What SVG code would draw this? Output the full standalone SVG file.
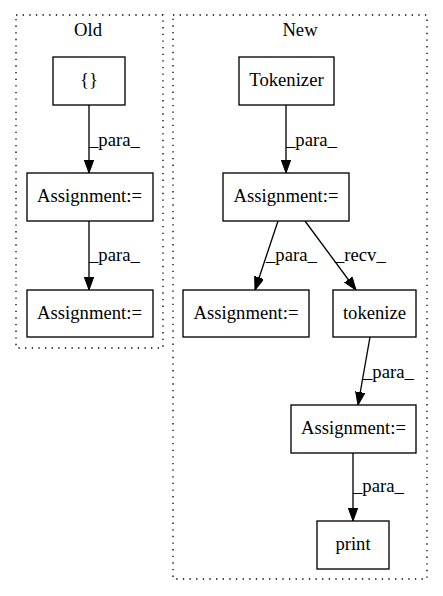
<svg xmlns="http://www.w3.org/2000/svg" width="443" height="596" viewBox="0 0 443 596">
<style>
text{font-family:"Liberation Serif","Times New Roman",serif;font-size:18.67px;fill:#000}
.c{fill:none;stroke:#000;stroke-width:1.33;stroke-dasharray:1.33,5.3}
.n{fill:#fff;stroke:#000;stroke-width:1.33}
.e{fill:none;stroke:#000;stroke-width:1.33;marker-end:url(#ah)}
.m{text-anchor:middle}
</style>
<defs>
<marker id="ah" markerUnits="userSpaceOnUse" markerWidth="14" markerHeight="10" refX="13" refY="4.7" orient="auto">
<path d="M0,0 L13,4.7 L0,9.4 z" fill="#000" stroke="#000"/>
</marker>
</defs>
<rect width="443" height="596" fill="#fff"/>
<g id="cluster_old">
<rect class="c" x="16" y="15" width="147" height="333"/>
<text class="m" x="88" y="36">Old</text>
</g>
<g id="cluster_new">
<rect class="c" x="173" y="15" width="254" height="564"/>
<text class="m" x="300" y="36">New</text>
</g>
<g id="edges">
<path class="e" d="M89,105 L89,173"/>
<text x="89" y="146">_para_</text>
<path class="e" d="M89,221 L89,290"/>
<text x="89" y="261">_para_</text>
<path class="e" d="M286,105 L286,173"/>
<text x="286" y="146">_para_</text>
<path class="e" d="M278,221 L255,290"/>
<text x="266" y="261">_para_</text>
<path class="e" d="M305,221 L356,290"/>
<text x="335" y="261">_recv_</text>
<path class="e" d="M370,337 L358,405"/>
<text x="363" y="378">_para_</text>
<path class="e" d="M353,453 L353,521"/>
<text x="353" y="492">_para_</text>
</g>
<g id="n_braces"><rect class="n" x="53" y="57" width="72" height="48"/><text class="m" x="89" y="86">{}</text></g>
<g id="n_old_assign1"><rect class="n" x="27" y="173" width="126" height="48"/><text class="m" x="89.5" y="202">Assignment:=</text></g>
<g id="n_old_assign2"><rect class="n" x="27" y="290" width="126" height="47"/><text class="m" x="89.5" y="319">Assignment:=</text></g>
<g id="n_tokenizer"><rect class="n" x="239" y="57" width="95" height="48"/><text class="m" x="286.5" y="86">Tokenizer</text></g>
<g id="n_new_assign1"><rect class="n" x="223" y="173" width="126" height="48"/><text class="m" x="286" y="202">Assignment:=</text></g>
<g id="n_new_assign2"><rect class="n" x="183" y="290" width="126" height="47"/><text class="m" x="246" y="319">Assignment:=</text></g>
<g id="n_tokenize"><rect class="n" x="333" y="290" width="83" height="47"/><text class="m" x="374.5" y="319">tokenize</text></g>
<g id="n_new_assign3"><rect class="n" x="291" y="405" width="125" height="48"/><text class="m" x="353.5" y="434">Assignment:=</text></g>
<g id="n_print"><rect class="n" x="317" y="521" width="72" height="48"/><text class="m" x="353" y="550">print</text></g>
</svg>
